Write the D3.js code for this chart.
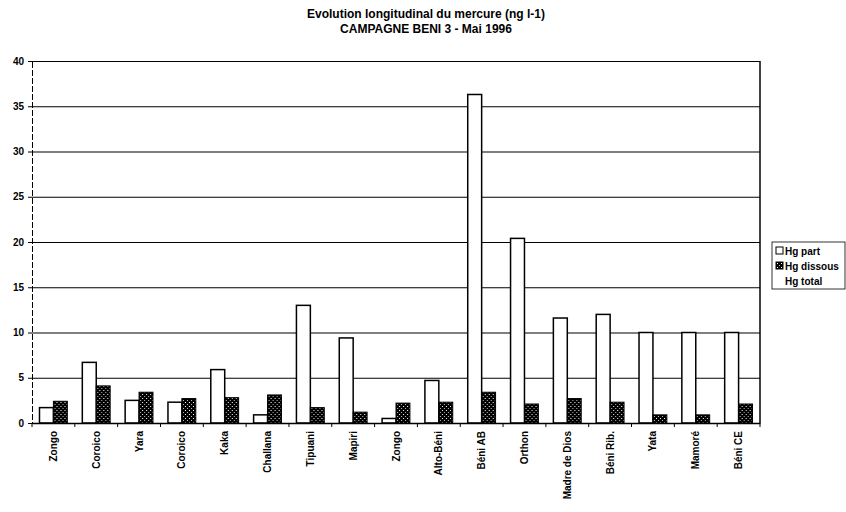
<!DOCTYPE html>
<html>
<head>
<meta charset="utf-8">
<script src="https://cdn.jsdelivr.net/npm/d3@7"></script>
<style>
  body { margin: 0; background: #fff; }
  svg text { font-family: 'Liberation Sans', Arial, sans-serif; fill: #000; }
  .title { font-size: 12px; font-weight: bold; }
  .tick text { font-size: 10px; font-weight: bold; }
  .grid line { stroke: #000; stroke-width: 1.2; }
  .grid .domain { display: none; }
  .legend text { font-size: 10px; font-weight: bold; }
</style>
</head>
<body>
<div id="chart"></div>
<script>
// Stations along the river
const stations = ['Zongo', 'Coroico', 'Yara', 'Coroico', 'Kaka', 'Challana', 'Tipuani', 'Mapiri',
  'Zongo', 'Alto-Béni', 'Béni AB', 'Orthon', 'Madre de Dios', 'Béni Rib.', 'Yata', 'Mamoré', 'Béni CE']

// Hg values (ng l-1)
const hgPart = [1.7, 6.7, 2.5, 2.3, 5.9, 0.9, 13.0, 9.4, 0.5, 4.7, 36.3, 20.4, 11.6, 12.0, 10.0, 10.0, 10.0]
const hgDissous = [2.4, 4.1, 3.4, 2.7, 2.8, 3.1, 1.7, 1.2, 2.2, 2.3, 3.4, 2.1, 2.7, 2.3, 0.9, 0.9, 2.1]

const seriesNames = ['Hg part', 'Hg dissous', 'Hg total']
const yTicks = [0, 5, 10, 15, 20, 25, 30, 35, 40]

const drawChart = () => {
  const width = 846
  const height = 512
  const margin = { top: 61, right: 86, bottom: 89, left: 32 }
  const innerWidth = width - margin.left - margin.right
  const innerHeight = height - margin.top - margin.bottom

  const svg = d3.select('#chart')
    .append('svg')
    .attr('width', width)
    .attr('height', height)

  // Checkered pattern for dissolved Hg
  const defs = svg.append('defs')
  const pat = defs.append('pattern')
    .attr('id', 'dissous')
    .attr('patternUnits', 'userSpaceOnUse')
    .attr('width', 4)
    .attr('height', 4)
  pat.append('rect').attr('width', 4).attr('height', 4).attr('fill', '#000')
  pat.append('rect').attr('x', 1).attr('y', 1).attr('width', 1).attr('height', 1).attr('fill', '#fff')
  pat.append('rect').attr('x', 3).attr('y', 3).attr('width', 1).attr('height', 1).attr('fill', '#bbb')

  // Title
  svg.append('text').attr('class', 'title')
    .attr('x', 426).attr('y', 18).attr('text-anchor', 'middle')
    .text('Evolution longitudinal du mercure (ng l-1)')
  svg.append('text').attr('class', 'title')
    .attr('x', 426).attr('y', 33).attr('text-anchor', 'middle')
    .text('CAMPAGNE BENI 3 - Mai 1996')

  const g = svg.append('g')
    .attr('transform', `translate(${margin.left}, ${margin.top})`)

  const x = d3.scaleBand()
    .domain(d3.range(stations.length))
    .range([0, innerWidth])
    .paddingInner(0.35)
    .paddingOuter(0.175)

  const xs = d3.scaleBand()
    .domain([0, 1])
    .range([0, x.bandwidth()])

  const y = d3.scaleLinear()
    .domain([0, 40])
    .range([innerHeight, 0])

  // Y gridlines
  g.append('g')
    .attr('class', 'grid')
    .call(d3.axisLeft(y).tickValues(yTicks).tickSize(-innerWidth).tickFormat(''))

  // Right border
  g.append('line')
    .attr('x1', innerWidth).attr('x2', innerWidth)
    .attr('y1', 0).attr('y2', innerHeight)
    .attr('stroke', '#000').attr('stroke-width', 1.5)

  // Bars
  const groups = g.selectAll('.station')
    .data(stations)
    .join('g')
    .attr('class', 'station')
    .attr('transform', (d, i) => `translate(${x(i)}, 0)`)

  groups.append('rect')
    .attr('x', xs(0))
    .attr('y', (d, i) => y(hgPart[i]))
    .attr('width', xs.bandwidth())
    .attr('height', (d, i) => y(0) - y(hgPart[i]))
    .attr('fill', '#fff')
    .attr('stroke', '#000')
    .attr('stroke-width', 1.5)

  groups.append('rect')
    .attr('x', xs(1))
    .attr('y', (d, i) => y(hgDissous[i]))
    .attr('width', xs.bandwidth())
    .attr('height', (d, i) => y(0) - y(hgDissous[i]))
    .attr('fill', 'url(#dissous)')
    .attr('stroke', '#000')
    .attr('stroke-width', 1)

  // Left axis
  const yAxis = g.append('g')
    .call(d3.axisLeft(y).tickValues(yTicks).tickSize(4).tickPadding(4))
  yAxis.select('.domain').attr('stroke', '#000').attr('stroke-dasharray', '6,2')

  // Bottom axis: ticks between categories
  const step = x.step()
  const xAxis = g.append('g')
    .attr('transform', `translate(0, ${innerHeight})`)
    .call(d3.axisBottom(x).tickSize(0).tickFormat(i => stations[i]))
  xAxis.select('.domain').attr('stroke', '#000').attr('stroke-width', 1.5)
  xAxis.selectAll('.tick text')
    .attr('transform', 'rotate(-90)')
    .attr('text-anchor', 'end')
    .attr('x', -8)
    .attr('y', 0)
    .attr('dy', '0.35em')
  xAxis.selectAll('.sep')
    .data(d3.range(stations.length + 1))
    .join('line')
    .attr('class', 'sep')
    .attr('x1', i => i * step).attr('x2', i => i * step)
    .attr('y1', 0).attr('y2', 4)
    .attr('stroke', '#000')

  // Legend
  const legend = svg.append('g')
    .attr('class', 'legend')
    .attr('transform', 'translate(772, 242)')
  legend.append('rect')
    .attr('width', 73).attr('height', 47)
    .attr('fill', '#fff').attr('stroke', '#000').attr('stroke-width', 0.8)
  const fills = ['#fff', 'url(#dissous)', 'none']
  const items = legend.selectAll('.item')
    .data(seriesNames)
    .join('g')
    .attr('class', 'item')
    .attr('transform', (d, i) => `translate(4, ${9 + i * 15})`)
  items.append('rect')
    .attr('x', 0).attr('y', -4)
    .attr('width', 7).attr('height', 7)
    .attr('fill', (d, i) => fills[i])
    .attr('stroke', (d, i) => i < 2 ? '#000' : 'none')
  items.append('text')
    .attr('x', 9).attr('y', 0).attr('dy', '0.35em')
    .text(d => d)
}

drawChart()
</script>
</body>
</html>
